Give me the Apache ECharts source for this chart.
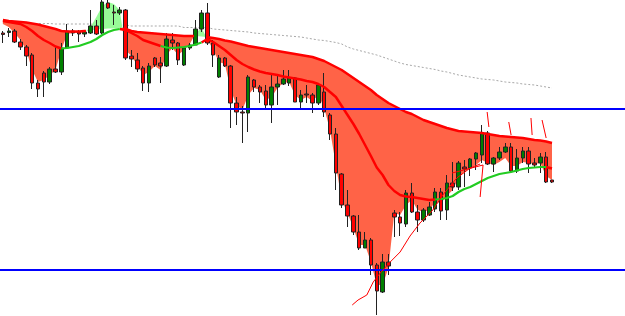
<!DOCTYPE html>
<html>
<head>
<meta charset="utf-8">
<script src="https://cdn.jsdelivr.net/npm/echarts@6/dist/echarts.min.js"></script>
<style>
  html, body { margin: 0; padding: 0; background: #fff; }
  #chart { width: 625px; height: 316px; }
</style>
</head>
<body>
<div id="chart"></div>
<script>
// bars: [open, close, low, high]
const candles = [
  [283,281.5,273,285],[283.5,285,279,288],[285,274,273,287],[274,269,266,277],[269,260,250,271],
  [261,233,227,263],[233,227,219,236],[243,234,219,245],[234,247,232,249],[247,244,243,269],
  [244,268,241,273],[268,285,267,292],[285,283,280,287],[284,282,274,286],[282,284,279,285],
  [283,290,282,306],[290,282,281,296],[283,314,282,316],[313,308,307,316],[304,303,291,311],
  [303,306,301,309],[306,258,256,307],[260,257,249,266],[256,247,244,263],[248,233,225,250],
  [233,250,224,253],[258,251,249,259],[253,250,233,259],[250,277,249,283],[276,273,266,283],
  [273,256,251,274],[251,268,250,269],[268,271,266,273],[271,287,271,296],[287,303,284,306],
  [303,273,271,313],[273,261,249,276],[239,258,238,261],[258,250,249,259],[250,213,188,251],
  [213,204,191,219],[204,203,173,210],[203,239,184,241],[236,229,224,237],[229,224,213,231],
  [225,211,206,231],[211,229,193,243],[229,232,211,242],[232,237,231,246],[233,238,230,246],
  [238,214,214,239],[214,221,206,226],[222,221,213,231],[221,213,203,223],[213,231,211,233],
  [224,204,199,243],[201,182,176,203],[182,143,126,188],[142,111,108,143],[111,100,89,126],
  [100,84,81,101],[84,68,66,101],[68,76,68,84],[76,51,41,78],[51,25,1,53],
  [24,54,23,62],[54,50,41,62],[103,99,79,106],[99,93,80,104],[92,123,89,126],
  [123,104,103,133],[104,96,84,111],[96,106,94,108],[101,109,100,114],[107,124,104,128],
  [124,105,96,128],[106,133,96,141],[133,129,125,154],[129,153,126,155],[149,147,129,156],
  [148,157,140,158],[157,163,146,164],[161,183,153,191],[183,152,151,185],[152,158,144,159],
  [158,164,156,169],[164,169,163,173],[169,145,143,173],[145,158,143,167],[158,165,153,169],
  [165,152,143,169],[153,151,148,158],[153,159,143,163],[159,134,133,164],[136,134,133,136]
];

const slowMA = [
  296,295,294.5,294,293.5,292.5,291.5,290,288.5,287,
  285,284.5,284.5,284.5,285,285.5,286.5,287,287.5,287.5,
  287.5,287,285,284,283.5,283,282.5,282,281.5,281,
  280.5,280,280,280,279.5,279,278,277,275.5,274.5,
  273,271.5,270,269,268,267,266,265,264,263,
  262,261,260,259,257,255,252,249,246,242,
  238,234,230,226,221,217,213,210,207,204,
  202,199,196,194,192,190,188,186.5,185,184.5,
  184,183.5,183,182,181,180,179.5,179,178.5,178,
  177,176,175.5,174.5,173
];

const midMA = [
  295,294,293,292,289,285,280,276,273,269.5,
  267.5,268,269,270,272,274,277,281,284,286,
  287,286,283,280,276,274,272,270,268.5,268,
  268.5,269,270,271.5,273.5,277,274,270,266,261,
  256,252,249,246.5,244.5,243,242,241,239.5,238.5,
  237.5,236.5,235,234,232,229,224,219,210,201,
  192,182,171,160,148.5,141,131,125,121,119.5,
  119,118,117,116,116.5,117,118,120,124,127,
  129,132,135,138,140,142,143,144,145.5,147,
  148,148.5,149,149,147.5
];

// 1 = price above the middle average (line drawn green)
const midUp = [
  0,0,0,0,0,0,0,0,0,0,
  0,1,1,1,1,1,1,1,1,1,
  1,0,0,0,0,0,0,0,1,1,
  1,1,1,1,1,0,0,0,0,0,
  0,0,0,0,0,0,0,0,0,0,
  0,0,0,0,0,0,0,0,0,0,
  0,0,0,0,0,0,0,0,0,0,
  0,0,0,0,0,1,1,1,1,1,
  1,1,1,1,1,1,1,1,1,1,
  1,1,1,1,0
];

const fastMA = [
  292,289,283,276,266,246,234,236,241,246,
  266,282,283,283,284,289,299,310,314,312,
  306,266,260,251,241,244,250,246,261,268,
  261,266,272,283,288,277,266,254,252,226,
  211,206,221,228,226,216,219,228,233,234,
  221,216,219,215,221,208,186,151,116,103,
  88,71,71,54,31,31,48,103,101,111,
  116,106,104,106,114,113,120,126,138,144,
  148,151,156,153,151,154,158,150,150,154,
  153,152,153,140,136
];

const longMA = [
  292.5,292.5,292.5,292.5,292.5,292.5,292.5,292.5,292.5,292,
  292,292,292,292,292,292,291,291,291,291,
  291,291,290,290,290,290,290,290,290,290,
  290,288.5,288.5,288.5,288.5,288.5,287,286.5,286,285.5,
  285,284.5,284,283,282.5,282,281.5,281,280.5,280,
  279.5,279,278,277,276,275.5,274.5,273.5,272,269,
  267,265.5,264,262.5,261,259,257,255,253,251.5,
  250.5,249.5,248.5,247.5,246.5,245,244,242.5,241,240,
  239,238,237,236.5,236,235,234,233.5,233,232,
  231.5,231,230,229,228
];

const levels = [207, 46];

// hand drawn strokes: [bar index, price]
const drawings = [
  [[59.8,11],[60.8,16],[62.3,21],[63.4,34],[64.6,43],[66.3,54],[68.0,64],[69.7,80],[71.4,93],[73.6,106],[75.3,121],[77.7,138],[80.0,148],[81.7,152]],
  [[76.9,143],[82.2,151],[81.7,119]],
  [[82.9,204],[83.2,189]],
  [[86.6,194],[87.0,181]],
  [[90.4,198],[90.6,181]],
  [[92.3,196],[93.0,178]]
];

const slots = 107;
const n = candles.length;
const categories = Array.from({ length: slots }, (_, i) => String(i));

const RED = '#ff0000';
const FILL_RED = '#ff6347';
const FILL_GREEN = '#98fb98';
const GREEN = '#22cc22';

// slow line only where the fill is red
function slowLine() {
  const pts = [];
  for (let i = 0; i < n; i++) {
    if (fastMA[i] < slowMA[i]) pts.push([i, slowMA[i]]);
    if (i + 1 < n) {
      const d0 = fastMA[i] - slowMA[i];
      const d1 = fastMA[i + 1] - slowMA[i + 1];
      if (d0 * d1 < 0) {
        const t = d0 / (d0 - d1);
        const x = i + t;
        pts.push([x, slowMA[i] + t * (slowMA[i + 1] - slowMA[i])]);
        if (d0 < 0) pts.push([x, null]);
      }
    }
  }
  return pts;
}

function midLine(up) {
  const pts = [];
  for (let k = 0; k < n - 1; k++) {
    if ((midUp[k + 1] === 1) === up) {
      const last = pts[pts.length - 1];
      if (!last || last[0] !== k || last[1] === null) pts.push([k, midMA[k]]);
      pts.push([k + 1, midMA[k + 1]]);
    } else if (pts.length && pts[pts.length - 1][1] !== null) {
      pts.push([k + 0.5, null]);
    }
  }
  return pts;
}

// one polygon per run where fast stays on the same side of slow
function renderFill(params, api) {
  const zones = [];
  let cur = null;
  for (let i = 0; i < n; i++) {
    const d = fastMA[i] - slowMA[i];
    if (!cur) cur = { up: d > 0, s: [], f: [] };
    cur.s.push([i, slowMA[i]]);
    cur.f.push([i, fastMA[i]]);
    if (i + 1 < n) {
      const d1 = fastMA[i + 1] - slowMA[i + 1];
      if (d * d1 < 0) {
        const t = d / (d - d1);
        const c = [i + t, slowMA[i] + t * (slowMA[i + 1] - slowMA[i])];
        cur.s.push(c);
        zones.push(cur);
        cur = { up: d1 > 0, s: [c], f: [] };
      }
    }
  }
  zones.push(cur);
  return {
    type: 'group',
    children: zones.map(z => ({
      type: 'polygon',
      shape: { points: z.s.concat(z.f.slice().reverse()).map(p => api.coord(p)) },
      style: { fill: z.up ? FILL_GREEN : FILL_RED }
    }))
  };
}

const lineBase = { type: 'line', xAxisIndex: 1, symbol: 'none', silent: true, connectNulls: false };

const series = [
  Object.assign({}, lineBase, {
    z: 1,
    data: longMA.map((v, i) => [i, v]),
    lineStyle: { color: '#a8a8a8', width: 1, type: [2, 2] }
  }),
  {
    type: 'custom',
    xAxisIndex: 1,
    z: 2,
    silent: true,
    renderItem: renderFill,
    data: [[0, slowMA[0]]]
  },
  {
    type: 'candlestick',
    xAxisIndex: 0,
    z: 3,
    barWidth: 4,
    data: candles,
    itemStyle: {
      color: '#008000',
      color0: '#ff0000',
      borderColor: '#222',
      borderColor0: '#222',
      borderWidth: 1
    }
  },
  Object.assign({}, lineBase, { z: 4, data: slowLine(), lineStyle: { color: RED, width: 2.5 } }),
  Object.assign({}, lineBase, { z: 4, data: midLine(false), lineStyle: { color: RED, width: 2.5 } }),
  Object.assign({}, lineBase, { z: 4, data: midLine(true), lineStyle: { color: GREEN, width: 2.2 } })
];

levels.forEach(v => {
  series.push(Object.assign({}, lineBase, {
    z: 5,
    data: [[-0.5, v], [slots - 0.5, v]],
    lineStyle: { color: '#0000ff', width: 2 }
  }));
});

drawings.forEach(path => {
  series.push(Object.assign({}, lineBase, {
    z: 6,
    data: path,
    lineStyle: { color: RED, width: 1 }
  }));
});

const chart = echarts.init(document.getElementById('chart'));
chart.setOption({
  animation: false,
  backgroundColor: '#ffffff',
  grid: { left: 0, right: 0, top: 0, bottom: 0 },
  xAxis: [
    { type: 'category', data: categories, boundaryGap: true, show: false },
    { type: 'value', min: -0.5, max: slots - 0.5, show: false }
  ],
  yAxis: { type: 'value', min: 0, max: 316, show: false, splitLine: { show: false } },
  series: series
});
</script>
</body>
</html>
